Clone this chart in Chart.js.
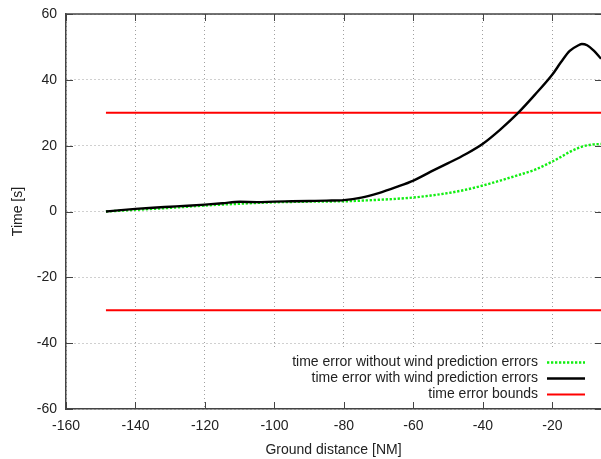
<!DOCTYPE html>
<html>
<head>
<meta charset="utf-8">
<script src="https://cdn.jsdelivr.net/npm/chart.js@4.4.0/dist/chart.umd.min.js"></script>
<style>
  html, body { margin: 0; padding: 0; background: #fff; }
</style>
</head>
<body>
<canvas id="chart" width="601" height="459"></canvas>
<script>
// ground distance to go [NM]
const distance = [-148.5, -145, -140, -135, -130, -125, -120, -115, -110, -105, -100, -95, -90, -85, -80,
  -75, -70, -65, -60, -55, -50, -45, -40, -35, -30, -25, -20, -17.5, -15, -12.5, -11.5, -10, -8, -6];

// time error [s]
const errNoWind = [0, 0.2, 0.5, 0.8, 1.1, 1.45, 1.8, 2.1, 2.35, 2.6, 2.8, 2.9, 3.0, 3.05, 3.1,
  3.3, 3.55, 3.85, 4.25, 4.85, 5.6, 6.6, 7.9, 9.4, 11.0, 12.7, 15.2, 16.6, 18.1, 19.3, 19.7, 20.1, 20.4, 20.5];
const errWind = [0, 0.35, 0.8, 1.15, 1.45, 1.75, 2.1, 2.5, 2.95, 2.85, 3.0, 3.1, 3.2, 3.3, 3.45,
  4.2, 5.6, 7.4, 9.4, 12.1, 14.7, 17.4, 20.6, 24.9, 29.8, 35.5, 41.6, 45.4, 48.8, 50.5, 50.9, 50.5, 48.8, 46.4];
const boundUpper = 30;
const boundLower = -30;

const seriesNames = [
  'time error without wind prediction errors',
  'time error with wind prediction errors',
  'time error bounds'
];

const xRange = [-160, -6];
const yRange = [-60, 60];
const tickStep = 20;

const font = { family: '"Liberation Sans", Arial, sans-serif', size: 14 };
const textColor = '#222';
const frameColor = '#444';

const toPoints = (xs, ys) => xs.map((x, i) => ({ x: x, y: ys[i] }));
const flat = v => [{ x: distance[0], y: v }, { x: distance[distance.length - 1], y: v }];

// gnuplot-like frame: top border, inward ticks on all four sides, key box
const frame = {
  id: 'frame',
  beforeDatasetsDraw(chart) {
    const { ctx, chartArea: a, scales } = chart;
    ctx.save();
    // key area hides the grid
    ctx.fillStyle = '#fff';
    ctx.fillRect(250, 347, a.right - 250, a.bottom - 348);

    ctx.strokeStyle = frameColor;
    ctx.lineWidth = 1.5;
    ctx.beginPath();
    ctx.moveTo(a.left, a.top);
    ctx.lineTo(a.right + 1, a.top);
    ctx.stroke();

    ctx.lineWidth = 1;
    ctx.beginPath();
    const len = 7;
    scales.x.ticks.forEach(t => {
      const px = Math.round(scales.x.getPixelForValue(t.value)) + 0.5;
      ctx.moveTo(px, a.bottom); ctx.lineTo(px, a.bottom - len);
      ctx.moveTo(px, a.top); ctx.lineTo(px, a.top + len);
    });
    scales.y.ticks.forEach(t => {
      const py = Math.round(scales.y.getPixelForValue(t.value)) + 0.5;
      ctx.moveTo(a.left, py); ctx.lineTo(a.left + len, py);
      ctx.moveTo(a.right + 1, py); ctx.lineTo(a.right + 1 - len, py);
    });
    ctx.stroke();
    ctx.restore();
  },
  afterDatasetsDraw(chart) {
    const { ctx } = chart;
    const rows = [0, 1, 2];
    ctx.save();
    ctx.font = font.size + 'px ' + font.family;
    ctx.fillStyle = textColor;
    ctx.textAlign = 'right';
    ctx.textBaseline = 'middle';
    rows.forEach((di, i) => {
      const ds = chart.data.datasets[di];
      const y = 362 + i * 16;
      ctx.fillText(seriesNames[i], 538, y);
      ctx.beginPath();
      ctx.strokeStyle = ds.borderColor;
      ctx.lineWidth = ds.borderWidth;
      ctx.setLineDash(ds.borderDash || []);
      ctx.moveTo(547, y + 0.5);
      ctx.lineTo(585, y + 0.5);
      ctx.stroke();
    });
    ctx.restore();
  }
};

new Chart(document.getElementById('chart'), {
  type: 'line',
  data: {
    datasets: [
      {
        label: seriesNames[0],
        data: toPoints(distance, errNoWind),
        borderColor: '#11ee11',
        borderWidth: 2.4,
        borderDash: [2.3, 1.7],
        cubicInterpolationMode: 'monotone',
        pointRadius: 0,
        fill: false,
        order: 2
      },
      {
        label: seriesNames[1],
        data: toPoints(distance, errWind),
        borderColor: '#000',
        borderWidth: 2.4,
        cubicInterpolationMode: 'monotone',
        pointRadius: 0,
        fill: false,
        order: 1
      },
      {
        label: seriesNames[2],
        data: flat(boundUpper),
        borderColor: '#ff0000',
        borderWidth: 2,
        pointRadius: 0,
        fill: false,
        order: 3
      },
      {
        label: seriesNames[2],
        data: flat(boundLower),
        borderColor: '#ff0000',
        borderWidth: 2,
        pointRadius: 0,
        fill: false,
        order: 3
      }
    ]
  },
  options: {
    responsive: false,
    animation: false,
    layout: { padding: { top: 14, right: 0, left: 0, bottom: 0 } },
    plugins: {
      legend: { display: false },
      tooltip: { enabled: false }
    },
    scales: {
      x: {
        type: 'linear',
        min: xRange[0],
        max: xRange[1],
        afterFit: s => { s.height = 50; },
        ticks: {
          stepSize: tickStep,
          includeBounds: false,
          padding: 9,
          color: textColor,
          font: font,
          maxRotation: 0
        },
        grid: { color: '#a0a0a0', lineWidth: 1, drawTicks: false },
        border: { color: frameColor, width: 1.5, dash: [1, 3] },
        title: {
          display: true,
          text: 'Ground distance [NM]',
          color: textColor,
          font: font,
          padding: { top: 0, bottom: 0 }
        }
      },
      y: {
        min: yRange[0],
        max: yRange[1],
        afterFit: s => { s.width = 66; s.paddingTop = 0; s.paddingBottom = 0; },
        ticks: {
          stepSize: tickStep,
          padding: 9,
          color: textColor,
          font: font
        },
        grid: { color: '#a0a0a0', lineWidth: 1, drawTicks: false },
        border: { color: frameColor, width: 1.5, dash: [1, 3] },
        title: {
          display: true,
          text: 'Time [s]',
          color: textColor,
          font: font,
          padding: { top: 10, bottom: 0 }
        }
      }
    }
  },
  plugins: [frame]
});
</script>
</body>
</html>
